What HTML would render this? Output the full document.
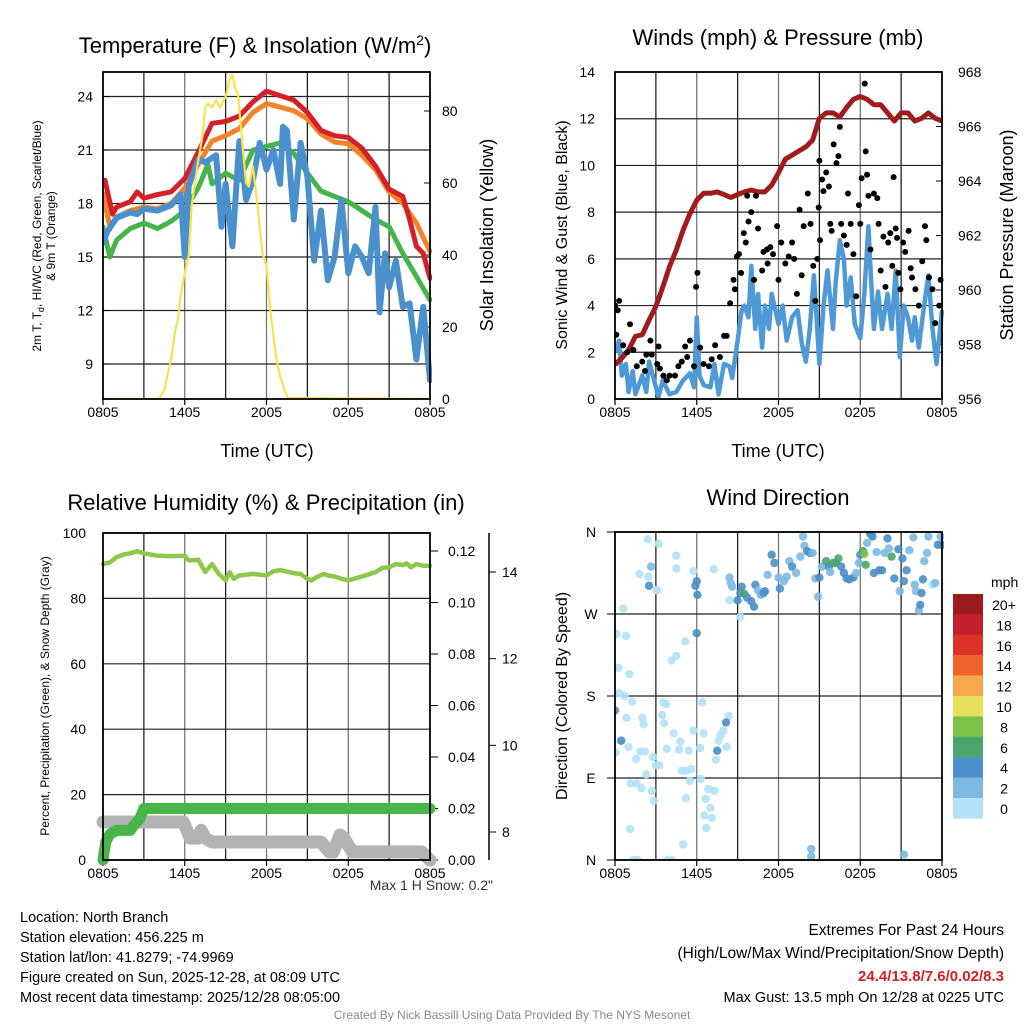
<!DOCTYPE html>
<html><head><meta charset="utf-8">
<style>
html,body{margin:0;padding:0;background:#fff;}
svg{display:block;font-family:"Liberation Sans",Arial,sans-serif;}
</style></head>
<body>
<svg id="chart" width="1024" height="1024" viewBox="0 0 1024 1024" xmlns="http://www.w3.org/2000/svg">
<rect width="1024" height="1024" fill="#fff"/>
<g id="layer"></g>
</svg>
<script>
// ---------- data ----------
const xTickLabels = ["0805","1405","2005","0205","0805"];
const tempTicks = [9,12,15,18,21,24];
const insTicks = [0,20,40,60,80];
const windTicks = [0,2,4,6,8,10,12,14];
const presTicks = [956,958,960,962,964,966,968];
const rhTicks = [0,20,40,60,80,100];
const precipTicks = [0.00,0.02,0.04,0.06,0.08,0.10,0.12];
const snowTicks = [8,10,12,14];
const dirTickLabels = ["N","E","S","W","N"];
const dirTickValues = [0,90,180,270,360];

const redHours = [0,0.15,0.7,1,2,2.5,3,4,5,6,7,8,9,10,11,12,13,14,15,16,17,18,19,20,21,22,22.5,23,23.5,24];
const redTemp  = [19.1,19.3,17.4,17.8,18.1,18.65,18.3,18.5,18.65,19.4,20.9,22.5,22.6,22.9,23.7,24.3,24.05,23.8,23.1,22.1,21.8,21.7,21.1,20.1,18.8,18.4,17.1,15.6,15.2,13.8];
const orangeHours = [0,0.5,1,2,3,4,5,6,7,8,9,10,11,12,13,14,15,16,17,18,19,20,21,22,23,24];
const orangeTemp  = [18.55,16.7,17.25,17.6,17.8,17.7,18.0,18.85,20.2,21.5,21.8,22.2,23.1,23.6,23.4,23.2,22.75,21.9,21.45,21.35,20.7,19.9,18.65,18.0,16.9,15.3];
const greenHours = [0,0.5,1,2,3,4,5,6,7,7.7,8,9,10,11,12,13,14,15,16,17,18,19,20,21,22,23,24];
const greenTemp  = [16.7,15.0,15.95,16.6,16.9,16.6,17.0,17.6,18.9,20.2,19.1,19.7,19.3,21.0,21.2,21.4,20.8,19.7,18.7,18.4,18.1,17.6,17.1,16.7,15.2,13.9,12.6];
const blueHours = [0,0.3,1,2,2.5,3,4,5,5.7,6,6.3,7,7.5,8.3,8.7,9,9.5,10,10.5,11,11.5,12,12.5,13,13.2,13.5,14,14.5,15,15.5,16,16.5,17,17.5,18,18.5,19,19.5,20,20.3,20.7,21,21.5,22,22.5,23,23.5,24];
const blueTemp  = [15.8,16.4,17.2,17.5,17.4,17.7,17.6,17.9,18.5,15.0,19.0,20.5,20.3,20.7,16.7,19.1,15.6,21.5,18.2,19.3,21.4,19.9,21.0,19.1,22.3,22.1,17.1,21.4,19.5,14.8,17.6,13.7,15.0,18.2,14.1,15.6,15.0,14.1,17.8,11.9,15.2,13.3,14.8,12.2,12.4,9.25,12.2,8.1];
const insHours = [0,4.1,4.5,5,5.3,5.5,5.7,6,6.3,6.5,7,7.3,7.5,7.7,8,8.3,8.6,9,9.3,9.5,9.7,9.9,10.2,10.5,10.7,11,11.3,11.7,12,12.3,12.7,13,13.3,13.6,24];
const insValue = [0,0,2.6,11,19,22,29,35,40,53.5,66.5,73,81,82,81,83,81,84,88.7,90,86,85,72,60,59,64.6,55,40.5,37,24,11.9,6.3,2.6,0.3,0];

const presHours = [0,0.5,1,1.5,2,2.5,3,3.5,4,4.5,5,5.5,6,6.5,7,7.5,8,8.5,9,9.5,10,10.5,11,11.5,12,12.5,13,13.5,14,14.5,15,15.5,16,16.5,17,17.5,18,18.5,19,19.5,20,20.5,21,21.5,22,22.5,23,23.5,24];
const presValue = [957.26,957.5,957.8,958.3,958.36,958.9,959.4,960.1,960.86,961.47,962.2,962.8,963.3,963.55,963.55,963.6,963.5,963.4,963.5,963.6,963.67,963.6,963.6,963.85,964.3,964.8,964.95,965.1,965.25,965.5,966.3,966.5,966.5,966.35,966.7,967.0,967.1,967.0,966.8,966.8,966.5,966.2,966.5,966.5,966.2,966.3,966.5,966.3,966.2];
const windHours = [0,0.3,0.5,0.8,1,1.3,1.5,2,2.3,2.5,3,3.2,3.5,4,4.5,5,5.5,5.8,6,6.2,6.5,7,7.3,7.6,8,8.4,8.6,9,9.3,9.5,9.8,10,10.3,10.5,10.8,11,11.3,11.5,12,12.3,12.6,13,13.4,13.7,14,14.3,14.6,15,15.3,15.6,16,16.2,16.5,16.8,17,17.3,17.6,18,18.3,18.6,18.8,19,19.3,19.6,20,20.3,20.6,20.9,21.2,21.5,21.8,22,22.3,22.6,23,23.3,23.6,24];
const windSpeed = [2.0,2.5,1.0,1.5,0.3,1.2,0.2,1.0,0.3,1.6,0.5,0.1,0.8,0.2,0.3,0.8,1.1,0.5,3.5,1.0,0.6,0.5,1.5,0.2,1.5,1.4,0.9,2.5,3.8,4.0,3.5,5.7,3.0,4.5,2.2,4.0,3.0,4.5,3.2,4.0,2.5,3.5,3.8,2.4,1.6,3.0,5.3,1.5,4.0,5.5,3.0,5.0,6.8,6.0,4.0,5.2,3.2,2.6,4.5,7.4,5.0,3.0,4.6,3.0,4.5,3.0,5.5,1.8,4.0,3.5,2.5,3.5,2.2,3.6,5.3,3.0,1.5,3.8];
const gustHours = [0,0.3,0.2,0.1,0.6,1.1,0.9,1.35,1.6,2,2.2,2.6,2.7,2.3,3.1,3.2,3.3,3.55,3.8,4,4.4,4.65,4.9,5.15,5.3,5.5,5.8,5.95,6.05,6.25,6.5,6.9,7.1,7.35,7.7,8,8.2,8.45,8.7,8.8,8.95,9.1,9.25,9.45,9.6,9.8,10,9.7,10.35,10.5,10.2,10.8,10.9,11.15,11.4,11.6,11.2,11.9,12,12.2,12.5,12.75,13,13.15,13.35,13.55,13.7,13.85,14.15,14.35,14.55,14.7,14.85,14.95,15.05,15,15.2,15.3,15.5,15.7,15.8,15.9,16.05,16.25,16.4,16.5,16.6,16.8,17,17.1,17.3,17.5,17.7,17.9,18,18.1,18.33,18.4,18.5,18.6,18.75,19,19.25,19.35,19.5,19.7,19.85,20.05,20.2,20.35,20.45,20.6,20.7,20.8,20.95,21.15,21.3,21.55,21.7,21.8,22.05,22.3,22.55,22.75,22.85,23.05,23.3,23.5,23.8,23.9];
const gustSpeed = [4.0,4.2,3.8,2.75,2.3,3.2,2.0,2.1,1.4,1.6,1.2,2.5,1.9,1.9,1.5,2.25,1.3,1.0,0.8,1.0,1.0,1.4,1.6,2.25,1.8,2.5,1.4,4.8,5.4,2.2,1.5,1.4,1.7,2.3,1.8,2.7,2.7,4.1,5.1,4.7,6.1,6.2,5.4,7.1,6.7,7.6,8.0,8.7,8.7,7.3,5.1,5.5,6.3,6.4,6.5,6.2,5.8,7.4,5.1,6.7,5.8,6.1,6.7,6.0,4.5,8.1,5.3,7.4,8.8,7.5,5.7,4.2,6.0,8.2,6.8,10.2,9.4,8.9,9.7,9.1,7.5,7.2,10.9,10.1,10.4,11.65,7.5,7.0,6.6,8.8,7.5,6.2,4.4,8.3,7.5,9.45,13.5,10.6,9.6,8.7,6.4,8.8,8.6,7.5,5.5,6.95,4.8,6.7,7.1,5.7,9.5,7.3,6.9,5.4,4.7,6.7,6.3,7.2,5.6,5.2,4.7,4.0,5.9,7.4,6.8,5.2,4.7,3.25,4.0,5.1];

const rhHours = [0,0.5,1,1.5,2,2.5,3,3.5,4,5,6,6.3,7,7.5,7.8,8,8.5,9,9.3,9.6,10,11,12,12.5,13,14,14.5,15,15.3,15.7,16.2,16.5,17,17.5,18,19,20,20.5,21,21.5,22,22.3,22.6,23,23.5,24];
const rhValue = [90.5,91,92.6,93.4,93.8,94.4,93.8,93.4,93.1,92.9,93.1,91.6,91.8,88,89.5,90.5,87.5,85.5,88,86,87,87.5,87,88.3,88.7,87.7,87.5,86,85.5,86.5,87.5,87,86.7,86,85.5,86.7,88,89.3,89.5,90.5,90.2,90.7,89.5,90.5,90,90];
const precipHours = [0,0.2,0.5,1,2,2.2,2.7,3,24];
const precipValue = [0,0.007,0.01,0.0115,0.0115,0.013,0.016,0.02,0.02];
const snowHours = [0,5.9,6.4,7.0,7.2,7.5,8.0,16.0,16.6,16.9,17.4,17.7,18.3,23.4,24];
const snowValue = [8.23,8.23,7.86,7.86,8.04,7.86,7.77,7.77,7.54,7.54,7.93,7.85,7.54,7.54,7.35];

const dirHours = [2.4,3.2,1.8,2.45,3.05,0.6,0.1,0.8,0.25,1.05,0.3,0.7,1.25,0.85,2,2.1,0.05,0.5,1,1.55,1.85,2.2,2.8,3,3.25,2.3,1.15,1.6,1.95,2.7,2.85,1.1,1.35,1.65,3.85,4.2,5,4.5,4.5,4.15,4.5,5.15,3.55,3.75,3.45,3.6,4.3,4.8,4.7,3.8,5.4,4.9,5.25,5.6,5.5,5.2,5.75,3.1,5.75,6.25,6.4,6.5,6.3,6.85,7.3,6.65,6.55,6.7,7.1,7,7.4,7.6,7.75,7.95,8.2,8.35,7.25,8.4,
2.65,2.5,0,0.45,7.5,8.15,6,6,5.9,6.05,
8.4,8.5,8.6,9,9.2,9.3,9.5,9.7,10,10.2,10.3,10.5,10.7,10.9,11,9.2,11.2,11.5,11.7,12,12.1,12.4,12.6,12.8,13,13.3,13.6,13.8,13.9,14.1,14.3,14.5,14.7,14.9,15,15.2,15.5,15.7,15.8,16,16.2,16.4,16.6,16.8,17,17.2,17.5,17.7,17.9,18,18.2,18.3,18.4,18.5,18.7,18.8,18.9,19,19.2,19.4,19.6,19.8,20,20.1,20.3,20.5,20.8,20.9,21.1,21.2,21.4,21.6,21.9,22,22.1,22.3,22.4,22.5,22.6,22.7,22.9,23,23.3,23.5,23.7,23.9,24,21.2,14.4,14.4];
const dirDegrees = [352,347,314,311,296,276,248,246,211,204,183,180,174,156,156,149,118,131,124,111,119,119,113,104,104,94,84,84,79,76,65,34,0,0,0,0,17,334,320,219,224,240,173,171,159,150,139,130,121,122,120,98,98,100,87,68,317,296,142,123,173,139,89,78,76,67,49,35,46,57,110,131,137,142,124,158,319,285,
322,301,164,131,120,151,249,306,301,291,
310,304,300,285,293,300,292,288,284,278,302,296,291,293,295,267,313,335,326,310,298,306,311,328,322,315,333,355,345,339,337,337,309,289,310,322,328,322,316,326,326,331,322,315,309,308,310,315,326,335,339,336,324,348,359,357,355,315,338,318,318,337,353,342,333,309,341,295,331,306,318,340,354,302,295,274,280,293,308,328,337,355,302,304,346,355,346,6,12,4];
const dirSpeed = [1,1,1,1,1,1,1,1,1,1,1,1,1,1,1,1,1,1,1,1,1,1,1,1,1,1,1,1,1,1,1,1,1,1,1,1,1,1,1,1,1,1,1,1,1,1,1,1,1,1,1,1,1,1,1,1,1,1,1,1,1,1,1,1,1,1,1,1,1,1,1,1,1,1,1,1,1,1,
3,5,5,5,5,5,5,5,5,5,
3,3,3,5,5,5,7,5,5,5,5,3,3,5,5,1,3,5,5,3,5,3,3,3,5,3,3,3,3,5,5,3,3,3,5,3,7,5,3,7,7,7,5,5,5,5,5,3,3,5,7,9,7,3,5,5,5,5,3,5,5,3,5,3,7,5,5,3,5,5,5,3,3,3,3,3,5,5,5,3,3,3,1,3,5,3,5,3,3,3];

const cbLabels = ["20+","18","16","14","12","10","8","6","4","2","0"];
const cbColors = ["#9b1b1e","#c1202a","#dc3329","#f0642c","#f7a84a","#e6e05a","#7cc24a","#4aa66a","#4a8fc7","#7cb9e3","#b3e1f7"];

// ---------- helpers ----------
const NS = "http://www.w3.org/2000/svg";
const layer = document.getElementById("layer");
function mk(tag, attrs, parent) {
  const e = document.createElementNS(NS, tag);
  for (const k in attrs) e.setAttribute(k, attrs[k]);
  (parent || layer).appendChild(e);
  return e;
}
function txt(str, x, y, size, anchor, parent, extra) {
  const t = mk("text", Object.assign({x: x, y: y, "font-size": size, "text-anchor": anchor || "middle", fill: "#000"}, extra || {}), parent);
  t.textContent = str;
  return t;
}
function lin(d0, d1, r0, r1) { return v => r0 + (v - d0) * (r1 - r0) / (d1 - d0); }
function pathFrom(xs, ys, fx, fy) {
  return xs.map((h, i) => (i ? "L" : "M") + fx(h).toFixed(1) + "," + fy(ys[i]).toFixed(1)).join("");
}
function speedColor(s) {
  const idx = Math.min(10, Math.floor(s / 2));
  return cbColors[10 - idx];
}

function frame(g, L, T, R, B, grids) {
  const fx = lin(0, 24, L, R);
  for (let h = 3; h < 24; h += 3) {
    const gl = mk("line", {x1: fx(h), x2: fx(h), y1: T, y2: B, stroke: h % 6 ? "#222" : "#777", "stroke-width": 1.3}, g);
    
    
  }
  grids.forEach(y => {
    const gl = mk("line", {x1: L, x2: R, y1: y, y2: y, stroke: "#222", "stroke-width": 1.2}, g);
    
    
  });
  xTickLabels.forEach((lab, i) => {
    const x = fx(i * 6);
    mk("line", {x1: x, x2: x, y1: B, y2: B + 6, stroke: "#000", "stroke-width": 1.2}, g);
    const t = txt(lab, x, B + 18, 14, "middle", g);
    
    
  });
  return fx;
}
function border(g, L, T, R, B) {
  const r = mk("rect", {x: L, y: T, width: R - L, height: B - T, fill: "none", stroke: "#000", "stroke-width": 1.8}, g);
  
  
}

// ---------- Panel 1 ----------
(function(){
  const g = mk("g", {});
  
  
  const L = 103, R = 430, T = 72, B = 399;
  const fyT = lin(9, 24, 364, 96.5);
  const fyI = lin(0, 80, 399, 111);
  const fx = frame(g, L, T, R, B, tempTicks.map(fyT));
  const t1 = txt("Temperature (F) & Insolation (W/m", 255, 53, 22, "middle", g);
  const sup = mk("tspan", {dy: -8, "font-size": 14}, t1); sup.textContent = "2";
  const cl = mk("tspan", {dy: 8}, t1); cl.textContent = ")";
  
  
  tempTicks.forEach(v => {
    mk("line", {x1: L, x2: L + 6, y1: fyT(v), y2: fyT(v), stroke: "#000"}, g);
    const t = txt(String(v), 93, fyT(v) + 5, 14, "end", g);
    
    
  });
  insTicks.forEach(v => {
    mk("line", {x1: R - 6, x2: R, y1: fyI(v), y2: fyI(v), stroke: "#000"}, g);
    const t = txt(String(v), 442, fyI(v) + 5, 14, "start", g);
    
    
  });
  const yl = txt("2m T, T", 0, 0, 12, "middle", g, {transform: "translate(41,236) rotate(-90)"});
  const sub = mk("tspan", {dy: 3, "font-size": 9}, yl); sub.textContent = "d";
  const rest = mk("tspan", {dy: -3}, yl); rest.textContent = ", HI/WC (Red, Green, Scarlet/Blue)";
  
  
  const yl2 = txt("& 9m T (Orange)", 0, 0, 12, "middle", g, {transform: "translate(55,236) rotate(-90)"});
  
  
  const yr = txt("Solar Insolation (Yellow)", 0, 0, 18, "middle", g, {transform: "translate(493,235) rotate(-90)"});
  
  
  const xl = txt("Time (UTC)", 267, 457, 18, "middle", g);
  
  
  const cp = mk("clipPath", {id: "c1"}, g); mk("rect", {x: L, y: T - 3, width: R - L + 2, height: B - T + 3}, cp);
  const pg = mk("g", {"clip-path": "url(#c1)"}, g);
  const series = [
    [greenHours, greenTemp, "#46b549", 5, "dewpoint-line"],
    [orangeHours, orangeTemp, "#f5822b", 5, "9m-temp-line"],
    [redHours, redTemp, "#d42027", 5, "2m-temp-line"],
    [blueHours, blueTemp, "#4a90cd", 6, "heat-index-windchill-line"]
  ];
  series.forEach(s => {
    const p = mk("path", {d: pathFrom(s[0], s[1], fx, fyT), fill: "none", stroke: s[2], "stroke-width": s[3], "stroke-linejoin": "round", "stroke-linecap": "round"}, pg);
    
    
  });
  const ip = mk("path", {d: pathFrom(insHours, insValue, fx, fyI), fill: "none", stroke: "#f9e24b", "stroke-width": 2.2, "stroke-linejoin": "round"}, pg);
  
  
  border(g, L, T, R, B);
})();

// ---------- Panel 2 ----------
(function(){
  const g = mk("g", {});
  
  
  const L = 615, R = 942, T = 72, B = 399;
  const fyW = lin(0, 14, 399, 72);
  const fyP = lin(956, 968, 399, 72);
  const fx = frame(g, L, T, R, B, windTicks.map(fyW));
  const t = txt("Winds (mph) & Pressure (mb)", 778, 45, 22, "middle", g);
  
  
  windTicks.forEach(v => {
    const l = txt(String(v), 595, fyW(v) + 5, 14, "end", g);
    
    
  });
  presTicks.forEach(v => {
    mk("line", {x1: R - 6, x2: R, y1: fyP(v), y2: fyP(v), stroke: "#000"}, g);
    const l = txt(String(v), 958, fyP(v) + 5, 14, "start", g);
    
    
  });
  const yl = txt("Sonic Wind & Gust (Blue, Black)", 0, 0, 16, "middle", g, {transform: "translate(567,235) rotate(-90)"});
  
  
  const yr = txt("Station Pressure (Maroon)", 0, 0, 18, "middle", g, {transform: "translate(1013,235) rotate(-90)"});
  
  
  const xl = txt("Time (UTC)", 778, 457, 18, "middle", g);
  
  
  const cp = mk("clipPath", {id: "c2"}, g); mk("rect", {x: L, y: T - 3, width: R - L + 2, height: B - T + 3}, cp);
  const pg = mk("g", {"clip-path": "url(#c2)"}, g);
  const wp = mk("path", {d: pathFrom(windHours, windSpeed, fx, fyW), fill: "none", stroke: "#4f9ad6", "stroke-width": 4.5, "stroke-linejoin": "round"}, pg);
  
  
  const pp = mk("path", {d: pathFrom(presHours, presValue, fx, fyP), fill: "none", stroke: "#a01c1c", "stroke-width": 5, "stroke-linejoin": "round"}, pg);
  
  
  gustHours.forEach((h, i) => {
    const c = mk("circle", {cx: fx(h), cy: fyW(gustSpeed[i]), r: 3, fill: "#000"}, pg);
    
    
  });
  border(g, L, T, R, B);
})();

// ---------- Panel 3 ----------
(function(){
  const g = mk("g", {});
  
  
  const L = 103, R = 430, T = 533, B = 860;
  const fyRH = lin(0, 100, 860, 533);
  const fyPr = lin(0, 0.12, 860, 551);
  const fyS = lin(8, 14, 832, 572);
  const fx = frame(g, L, T, R, B, rhTicks.map(fyRH));
  const t = txt("Relative Humidity (%) & Precipitation (in)", 266, 510, 22, "middle", g);
  
  
  rhTicks.forEach(v => {
    const l = txt(String(v), 86, fyRH(v) + 5, 14, "end", g);
    
    
  });
  precipTicks.forEach(v => {
    mk("line", {x1: R, x2: R + 8, y1: fyPr(v), y2: fyPr(v), stroke: "#000"}, g);
    const l = txt(v.toFixed(2), 448, fyPr(v) + 5, 14, "start", g);
    
    
  });
  const sa = mk("line", {x1: 489, x2: 489, y1: 533, y2: 860, stroke: "#000", "stroke-width": 1.5}, g);
  
  
  snowTicks.forEach(v => {
    mk("line", {x1: 489, x2: 496, y1: fyS(v), y2: fyS(v), stroke: "#000"}, g);
    const l = txt(String(v), 502, fyS(v) + 5, 14, "start", g);
    
    
  });
  const yl = txt("Percent, Precipitation (Green), & Snow Depth (Gray)", 0, 0, 12, "middle", g, {transform: "translate(49,696) rotate(-90)"});
  
  
  const ms = txt("Max 1 H Snow: 0.2\"", 493, 890, 14, "end", g, {fill: "#333"});
  
  
  const sp = mk("path", {d: pathFrom(snowHours, snowValue, fx, fyS), fill: "none", stroke: "#b3b3b3", "stroke-width": 13, "stroke-linejoin": "round", "stroke-linecap": "round"}, g);
  
  
  const pp = mk("path", {d: pathFrom(precipHours, precipValue, fx, fyPr), fill: "none", stroke: "#48b548", "stroke-width": 11, "stroke-linejoin": "round", "stroke-linecap": "round"}, g);
  
  
  const rp = mk("path", {d: pathFrom(rhHours, rhValue, fx, fyRH), fill: "none", stroke: "#8dc84b", "stroke-width": 4.5, "stroke-linejoin": "round", "stroke-linecap": "round"}, g);
  
  
  border(g, L, T, R, B);
})();

// ---------- Panel 4 ----------
(function(){
  const g = mk("g", {});
  
  
  const L = 615, R = 942, T = 532, B = 860;
  const fyD = lin(0, 360, 860, 532);
  const fx = frame(g, L, T, R, B, dirTickValues.map(fyD));
  const t = txt("Wind Direction", 778, 505, 22, "middle", g);
  
  
  dirTickValues.forEach((v, i) => {
    mk("line", {x1: L - 8, x2: L, y1: fyD(v), y2: fyD(v), stroke: "#000"}, g);
    const l = txt(dirTickLabels[i], 591, fyD(v) + 5, 14, "middle", g);
    
    
  });
  const yl = txt("Direction (Colored By Speed)", 0, 0, 16, "middle", g, {transform: "translate(567,696) rotate(-90)"});
  
  
  const cp = mk("clipPath", {id: "c4"}, g); mk("rect", {x: L, y: T - 1, width: R - L + 2, height: B - T + 2}, cp);
  const pg = mk("g", {"clip-path": "url(#c4)"}, g);
  dirHours.forEach((h, i) => {
    const c = mk("circle", {cx: fx(h), cy: fyD(dirDegrees[i]), r: 4.2, fill: speedColor(dirSpeed[i]), "fill-opacity": 0.9}, pg);
    
    
  });
  border(g, L, T, R, B);
  const cb = mk("g", {}, g);
  
  
  const u = txt("mph", 991, 587, 14, "start", cb);
  
  
  cbColors.forEach((c, i) => {
    const r = mk("rect", {x: 953, y: 594 + i * 20.4, width: 30, height: 20.6, fill: c}, cb);
    
    
    const l = txt(cbLabels[i], 1004, 610 + i * 20.4, 14, "middle", cb);
    
    
  });
})();

// ---------- footer text ----------
(function(){
  const g = mk("g", {});
  
  
  const lines = ["Location: North Branch","Station elevation: 456.225 m","Station lat/lon: 41.8279; -74.9969","Figure created on Sun, 2025-12-28, at 08:09 UTC","Most recent data timestamp: 2025/12/28 08:05:00"];
  lines.forEach((s, i) => {
    const t = txt(s, 20, 922 + i * 20, 14.5, "start", g);
    
    
  });
  const e = mk("g", {});
  
  
  const a = txt("Extremes For Past 24 Hours", 1004, 935, 15.5, "end", e);
  
  
  const b = txt("(High/Low/Max Wind/Precipitation/Snow Depth)", 1004, 958, 15.5, "end", e);
  
  
  const c = txt("24.4/13.8/7.6/0.02/8.3", 1004, 981, 15, "end", e, {fill: "#d42027", "font-weight": "bold"});
  
  
  const d = txt("Max Gust: 13.5 mph On 12/28 at 0225 UTC", 1004, 1002, 14.5, "end", e);
  
  
  const f = txt("Created By Nick Bassill Using Data Provided By The NYS Mesonet", 512, 1019, 12, "middle", null, {fill: "#888"});
  
  
})();
</script>
</body></html>
